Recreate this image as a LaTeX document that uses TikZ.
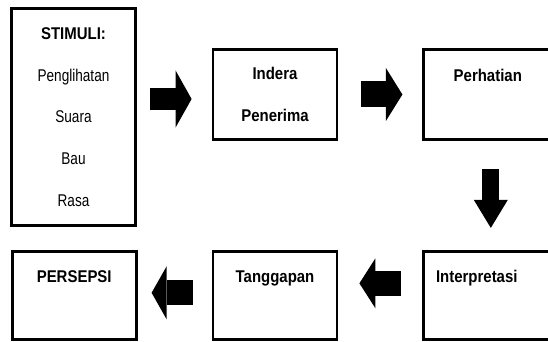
\documentclass[tikz,border=0pt]{standalone}
\usepackage{fontspec}
\setmainfont{Liberation Sans}[FakeStretch=0.8,BoldFeatures={FakeStretch=0.88}]
\usetikzlibrary{positioning,arrows.meta}

\begin{document}
\begin{tikzpicture}[box/.style={draw,line width=2.8pt,minimum width=124pt},
                    lbl/.style={font=\fontsize{17}{20}\selectfont\bfseries,text height=12pt,text depth=0pt}]
            \useasboundingbox (0,0) rectangle (548pt,-342pt);
            \node[box,minimum height=217pt,align=center,font=\fontsize{17}{41.75}\selectfont](stimuli) at (73.5pt,-117pt)
                {\textbf{STIMULI:}\\Penglihatan\\Suara\\Bau\\Rasa};
            \node[box,minimum height=90pt,align=center,font=\fontsize{17}{41.5}\selectfont\bfseries](indera) at (275pt,-94.5pt)
                {Indera\\Penerima};
            \node[box,minimum height=90pt,minimum width=134pt](perhatian)[right =84pt of indera]{};
            \node[box,minimum height=88pt,minimum width=134pt](interpretasi)[below =109pt of perhatian]{};
            \node[box,minimum height=88pt](tanggapan)[left =84pt of interpretasi]{};
            \node[box,minimum height=88pt](persepsi)[left =74pt of tanggapan]{};
            % labels near the top of the boxes
            \node[lbl](perhatianlbl) at ([xshift=-3pt,yshift=-27pt]perhatian.north){Perhatian};
            \node[lbl](interpretasilbl) at ([xshift=-14pt,yshift=-27pt]interpretasi.north){Interpretasi};
            \node[lbl](tanggapanlbl) at ([yshift=-27pt]tanggapan.north){Tanggapan};
            \node[lbl](persepsilbl) at ([yshift=-27pt]persepsi.north){PERSEPSI};
            % block arrows
            \coordinate (a1) at ([yshift=-4.5pt]indera.west);
            \coordinate (b2) at ([yshift=12pt]interpretasi.west);
            \draw[line width=22pt,-{Triangle[length=16pt,width=57pt,line width=0pt]},shorten <=13pt,shorten >=20pt]
                (stimuli.east |- a1) -- (a1);
            \draw[line width=26pt,-{Triangle[length=16.5pt,width=53pt,line width=0pt]},shorten <=23pt,shorten >=20pt]
                (indera.east) -- (perhatian.west);
            \draw[line width=17pt,-{Triangle[length=28pt,width=34pt,line width=0pt]},shorten <=28pt,shorten >=22pt]
                (perhatian.south) -- (interpretasi.north);
            \draw[line width=25pt,-{Triangle[length=16pt,width=50pt,line width=0pt]},shorten <=21pt,shorten >=21pt]
                (b2) -- (tanggapan.east |- b2);
            \draw[line width=25pt,-{Triangle[length=15pt,width=53pt,line width=0pt]},shorten <=19pt,shorten >=14pt]
                ([yshift=2.5pt]tanggapan.west) -- ([yshift=2.5pt]persepsi.east);
\end{tikzpicture}
\end{document}
